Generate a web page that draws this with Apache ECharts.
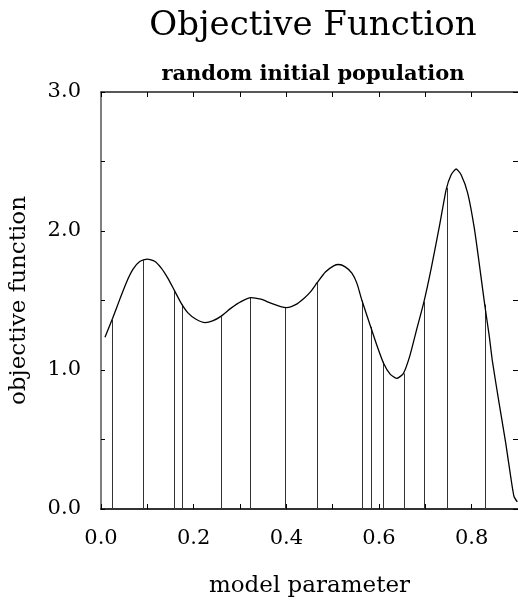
<!DOCTYPE html>
<html>
<head>
<meta charset="utf-8">
<script src="https://cdn.jsdelivr.net/npm/echarts@6/dist/echarts.min.js"></script>
<style>html,body{margin:0;padding:0;background:#fff;}#c{width:518px;height:604px;}</style>
</head>
<body>
<div id="c"></div>
<script>
// Objective function curve
const curveX = [0.0086,0.0251,0.0407,0.0551,0.0692,0.0836,0.1001,0.1157,0.1301,0.1442,0.1586,0.1729,0.1871,0.2051,0.2250,0.2407,0.2578,0.2807,0.3021,0.3236,0.3450,0.3664,0.3879,0.4007,0.4200,0.4378,0.4521,0.4665,0.4843,0.5021,0.5128,0.5271,0.5415,0.5522,0.5629,0.5807,0.5951,0.6096,0.6236,0.6379,0.6521,0.6664,0.6808,0.6971,0.7129,0.7307,0.7451,0.7558,0.7665,0.7772,0.7914,0.8057,0.8201,0.8286,0.8379,0.8449,0.8593,0.8736,0.8843,0.8914,0.8985];
const curveY = [1.236,1.372,1.510,1.632,1.725,1.780,1.798,1.782,1.733,1.661,1.571,1.481,1.413,1.365,1.341,1.353,1.384,1.445,1.492,1.521,1.509,1.481,1.456,1.449,1.470,1.515,1.562,1.628,1.705,1.749,1.759,1.742,1.697,1.625,1.504,1.324,1.180,1.050,0.972,0.940,0.972,1.100,1.285,1.492,1.735,2.040,2.300,2.405,2.446,2.405,2.273,2.020,1.672,1.460,1.245,1.060,0.760,0.472,0.231,0.090,0.051];
// Random initial population samples
const sampleX = [0.0236,0.0915,0.158,0.175,0.258,0.322,0.397,0.4665,0.563,0.582,0.608,0.654,0.697,0.7457,0.828];
const sampleY = [1.36,1.79,1.575,1.47,1.384,1.52,1.45,1.63,1.50,1.31,1.06,0.975,1.49,2.31,1.47];
const xTickLabels = ['0.0','0.2','0.4','0.6','0.8'];
const yTickLabels = ['0.0','1.0','2.0','3.0'];

const serif = '"DejaVu Serif", "Liberation Serif", serif';
const chart = echarts.init(document.getElementById('c'), null, {renderer:'canvas'});
const fmtX = v => { const s = v.toFixed(1); return xTickLabels.indexOf(s) >= 0 ? s : ''; };
const fmtY = v => { const s = v.toFixed(1); return yTickLabels.indexOf(s) >= 0 ? s : ''; };

chart.setOption({
  animation:false,
  backgroundColor:'#fff',
  title:[
    {text:'Objective Function', left:308, top:4, textAlign:'center',
     textStyle:{fontFamily:serif, fontSize:34, fontWeight:'normal', color:'#000'}},
    {text:'random initial population', left:308, top:59, textAlign:'center',
     textStyle:{fontFamily:serif, fontSize:21, fontWeight:'bold', color:'#000'}}
  ],
  grid:{left:99, top:92, width:420, height:417, containLabel:false},
  xAxis:[
    {type:'value', min:0, max:0.9, interval:0.1, position:'bottom',
     name:'model parameter', nameLocation:'middle', nameGap:66,
     nameTextStyle:{fontFamily:serif, fontSize:23, fontWeight:'normal', color:'#000'},
     axisLine:{show:true, onZero:false, lineStyle:{color:'#333', width:2}},
     axisTick:{show:true, inside:true, length:5, lineStyle:{color:'#000'}},
     axisLabel:{formatter:fmtX, margin:19, fontFamily:serif, fontSize:21, fontWeight:'normal', color:'#000', showMaxLabel:false},
     splitLine:{show:false}},
    {type:'value', min:0, max:0.9, interval:0.1, position:'top',
     axisLine:{show:true, onZero:false, lineStyle:{color:'#222', width:1.5}},
     axisTick:{show:true, inside:true, length:5, lineStyle:{color:'#000'}},
     axisLabel:{show:false}, splitLine:{show:false}}
  ],
  yAxis:[
    {type:'value', min:0, max:3, interval:0.5, position:'left',
     name:'objective function', nameLocation:'middle', nameGap:70, nameRotate:90,
     nameTextStyle:{fontFamily:serif, fontSize:23, fontWeight:'normal', color:'#000'},
     axisLine:{show:true, onZero:false, lineStyle:{color:'#555', width:1.5}},
     axisTick:{show:true, inside:true, length:4, lineStyle:{color:'#000'}},
     axisLabel:{formatter:fmtY, margin:20, fontFamily:serif, fontSize:21, fontWeight:'normal', color:'#000'},
     splitLine:{show:false}},
    {type:'value', min:0, max:3, interval:0.5, position:'right',
     axisLine:{show:false, onZero:false},
     axisTick:{show:true, inside:true, length:5, lineStyle:{color:'#000'}},
     axisLabel:{show:false}, splitLine:{show:false}}
  ],
  series:[
    {type:'line', xAxisIndex:0, yAxisIndex:0, smooth:0.2, showSymbol:false, symbol:'none',
     data:curveX.map((x,i)=>[x,curveY[i]]),
     lineStyle:{color:'#000', width:1.3}},
    {type:'custom', xAxisIndex:0, yAxisIndex:0,
     data:sampleX.map((x,i)=>[x,sampleY[i]]),
     renderItem:function(params, api){
       const p0 = api.coord([api.value(0), 0]);
       const p1 = api.coord([api.value(0), api.value(1)]);
       const x = Math.round(p0[0]) + 0.5;
       return {type:'line', shape:{x1:x, y1:p0[1], x2:x, y2:p1[1]},
               style:{stroke:'#333', lineWidth:1}};
     }}
  ]
});
</script>
</body>
</html>
